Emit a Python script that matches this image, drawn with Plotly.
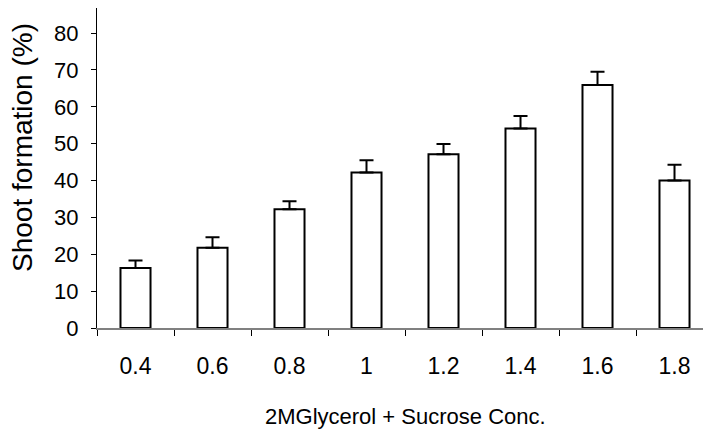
import plotly.graph_objects as go

categories = ["0.4", "0.6", "0.8", "1", "1.2", "1.4", "1.6", "1.8"]
shoot_formation = [16.3, 21.8, 32.2, 42.2, 47.1, 54.1, 65.9, 40.0]
error_plus = [2.0, 2.8, 2.2, 3.3, 2.8, 3.4, 3.6, 4.3]
y_ticks = [0, 10, 20, 30, 40, 50, 60, 70, 80]

regular = "Liberation Sans, Arial, sans-serif"

fig = go.Figure()
fig.add_trace(go.Bar(
    x=categories,
    y=shoot_formation,
    width=0.39,
    marker=dict(color="white", line=dict(color="black", width=2)),
    error_y=dict(type="data", symmetric=False, array=error_plus,
                 arrayminus=[0] * len(error_plus),
                 color="black", thickness=2, width=7),
    showlegend=False,
))

fig.update_layout(
    width=703, height=440,
    margin=dict(l=97, r=0, t=8, b=112),
    paper_bgcolor="white", plot_bgcolor="white",
    xaxis=dict(
        type="category", range=[-0.5, 7.37], automargin=False,
        showline=True, linecolor="#808080", linewidth=1.5,
        ticks="outside", tickson="boundaries", ticklen=6, tickcolor="black", tickwidth=1,
        tickfont=dict(family=regular, size=23, color="black"),
        ticklabelstandoff=17,
        showgrid=False, zeroline=False,
    ),
    yaxis=dict(
        range=[0, 86.8], automargin=False,
        tickvals=y_ticks,
        showline=True, linecolor="black", linewidth=1,
        ticks="outside", ticklen=5, tickcolor="black", tickwidth=1,
        tickfont=dict(family=regular, size=22, color="black"),
        ticklabelstandoff=8,
        showgrid=False, zeroline=False,
    ),
    annotations=[
        dict(text="Shoot formation (%)", textangle=-90, showarrow=False,
             xref="paper", yref="paper",
             x=(22 - 97) / 606, y=(328 - 148) / 320,
             xanchor="center", yanchor="middle",
             font=dict(family=regular, size=28, color="black")),
        dict(text="2MGlycerol + Sucrose Conc.", showarrow=False,
             xref="paper", yref="paper",
             x=(405 - 97) / 606, y=(328 - 416) / 320,
             xanchor="center", yanchor="middle",
             font=dict(family=regular, size=22, color="black")),
    ],
)

fig.write_html("out.html", config={"displayModeBar": False},
               post_script="document.body.style.margin='0';document.body.style.overflow='hidden';")
